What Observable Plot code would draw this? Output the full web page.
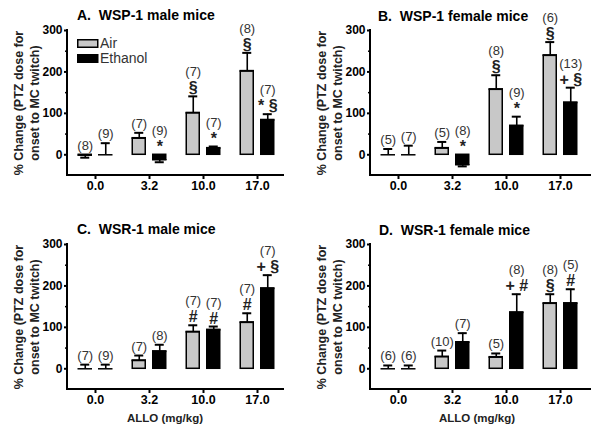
<!DOCTYPE html>
<html>
<head>
<meta charset="utf-8">
<script src="https://cdn.jsdelivr.net/npm/d3@7"></script>
<script src="https://cdn.jsdelivr.net/npm/@observablehq/plot@0.6"></script>
<style>
  html, body { margin: 0; padding: 0; background: #fff; }
  #wrap { position: relative; width: 600px; height: 433px; background: #fff; overflow: hidden;
          font-family: "Liberation Sans", Arial, sans-serif; }
  #wrap svg.panel { position: absolute; }
  #overlay { position: absolute; left: 0; top: 0; }
</style>
</head>
<body>
<div id="wrap"></div>
<script>
// ---------- data ----------
const doses = ["0.0", "3.2", "10.0", "17.0"];
const groups = ["Air", "Ethanol"];
const yLabel = "% Change (PTZ dose for\nonset to MC twitch)";
const xLabel = "ALLO (mg/kg)";

// A. WSP-1 male mice
const titleA = "A.  WSP-1 male mice";
const airA = [-1, 40, 101, 202];
const airSemA = [6, 13, 40, 44];
const ethA = [0, -12, 16, 84];
const ethSemA = [28, 6, 4, 14];
const airNA = ["8", "7", "7", "8"];
const ethNA = ["9", "9", "7", "7"];
const airSymA = ["", "", "§", "§"];
const ethSymA = ["", "*", "*", "* §"];

// B. WSP-1 female mice
const titleB = "B.  WSP-1 female mice";
const airB = [0, 16, 158, 240];
const airSemB = [14, 15, 34, 32];
const ethB = [0, -24, 70, 126];
const ethSemB = [22, 4, 22, 36];
const airNB = ["5", "5", "8", "6"];
const ethNB = ["7", "8", "9", "13"];
const airSymB = ["", "", "§", "§"];
const ethSymB = ["", "*", "*", "+ §"];

// C. WSR-1 male mice
const titleC = "C.  WSR-1 male mice";
const airC = [0, 20, 89, 112];
const airSemC = [10, 12, 16, 22];
const ethC = [0, 42, 94, 194];
const ethSemC = [10, 16, 8, 32];
const airNC = ["7", "7", "7", "7"];
const ethNC = ["9", "8", "7", "7"];
const airSymC = ["", "", "#", "#"];
const ethSymC = ["", "", "#", "+ §"];

// D. WSR-1 female mice
const titleD = "D.  WSR-1 female mice";
const airD = [0, 29, 28, 158];
const airSemD = [8, 15, 9, 22];
const ethD = [0, 64, 136, 158];
const ethSemD = [8, 22, 44, 34];
const airND = ["6", "10", "5", "8"];
const ethND = ["6", "7", "8", "5"];
const airSymD = ["", "", "", "§"];
const ethSymD = ["", "", "+ #", "#"];

const yTicks = [0, 100, 200, 300];
const yMinorTicks = [50, 150, 250];
const yDomain = [-50, 300];

// ---------- helpers ----------
const FONT = '"Liberation Sans", Arial, sans-serif';

function rowsFor(vals, sems, ns, syms, grp) {
  return doses.map((d, i) => {
    const mean = vals[i], sem = sems[i];
    const end = mean + (mean < 0 ? -sem : sem);
    return {dose: d, grp, mean, sem, end, n: ns[i], sym: syms[i], base: Math.max(0, mean, end)};
  });
}

function groupMarks(rows, dx) {
  const barInset = 20.5, capInset = 22.5;
  return [
    Plot.barY(rows, {x: "dose", y1: 0, y2: "mean", fill: "grp", stroke: "black", strokeWidth: 1.5,
      insetLeft: barInset, insetRight: barInset, dx}),
    Plot.tickY(rows, {x: "dose", y: "mean", stroke: "black", strokeWidth: 1.5,
      insetLeft: barInset - 0.75, insetRight: barInset - 0.75, dx}),
    Plot.ruleX(rows, {x: "dose", y1: "mean", y2: "end", stroke: "black", strokeWidth: 1.6, dx}),
    Plot.tickY(rows, {x: "dose", y: "end", stroke: "black", strokeWidth: 2,
      insetLeft: capInset, insetRight: capInset, dx}),
    Plot.text(rows.filter(d => !d.sym), {x: "dose", y: "base", text: d => `(${d.n})`, dx, dy: -5,
      lineAnchor: "bottom", fontSize: 13, fill: "#333"}),
    Plot.text(rows.filter(d => d.sym), {x: "dose", y: "base", text: d => `(${d.n})`, dx, dy: -20,
      lineAnchor: "bottom", fontSize: 13, fill: "#333"}),
    Plot.text(rows.filter(d => d.sym), {x: "dose", y: "base", text: "sym", dx, dy: -3,
      lineAnchor: "bottom", fontSize: 16, fontWeight: "bold", fill: "#222"})
  ];
}

function axisLines(extendRight) {
  return (index, scales, values, dims) => {
    const g = d3.create("svg:g").attr("stroke", "black").attr("stroke-width", 2).attr("fill", "none");
    const x0 = dims.marginLeft - 1;
    const yb = scales.y(yDomain[0]), yt = scales.y(yDomain[1]);
    g.append("line").attr("x1", x0).attr("x2", x0).attr("y1", yt - 1).attr("y2", yb + 1);
    g.append("line").attr("x1", x0 - 1).attr("x2", dims.width - dims.marginRight + extendRight)
      .attr("y1", yb).attr("y2", yb);
    return g.node();
  };
}

function panel(opts) {
  const airRows = rowsFor(opts.air, opts.airSem, opts.airN, opts.airSym, "Air");
  const ethRows = rowsFor(opts.eth, opts.ethSem, opts.ethN, opts.ethSym, "Ethanol");
  const svg = Plot.plot({
    width: 300,
    height: opts.height,
    marginLeft: opts.marginLeft,
    marginRight: 300 - opts.marginLeft - 216,
    marginTop: opts.marginTop,
    marginBottom: opts.height - opts.marginTop - 145,
    style: {fontFamily: FONT, fontSize: "12px", background: "transparent", overflow: "visible", color: "black"},
    x: {domain: doses, padding: 0},
    y: {domain: yDomain},
    color: {domain: groups, range: ["#c8c8c8", "#000000"]},
    marks: [
      Plot.axisY({ticks: yTicks, tickSize: 4, tickPadding: 2, fontWeight: "bold", fontSize: 12,
        label: null, strokeWidth: 2}),
      Plot.axisY({ticks: yMinorTicks, tickSize: 3, text: null, label: null, strokeWidth: 1.5}),
      Plot.axisX({tickSize: 4, tickPadding: 2, fontWeight: "bold", fontSize: 12.5, label: null, strokeWidth: 2}),
      axisLines(opts.extendRight),
      ...groupMarks(airRows, -10.25),
      ...groupMarks(ethRows, 10.25),
      Plot.text([yLabel], {frameAnchor: "left", text: d => d, rotate: -90, dx: -43,
        lineAnchor: "middle", textAnchor: "middle", lineHeight: 1.33,
        fontSize: 12.5, fontWeight: "bold", fill: "#222"})
    ]
  });
  svg.classList.add("panel");
  svg.style.left = opts.left + "px";
  svg.style.top = opts.top + "px";
  return svg;
}

const wrap = document.getElementById("wrap");
wrap.appendChild(panel({left: 0, top: 0, height: 215, marginTop: 30, marginLeft: 68, extendRight: 0,
  air: airA, airSem: airSemA, airN: airNA, airSym: airSymA,
  eth: ethA, ethSem: ethSemA, ethN: ethNA, ethSym: ethSymA}));
wrap.appendChild(panel({left: 300, top: 0, height: 215, marginTop: 30, marginLeft: 71, extendRight: 4,
  air: airB, airSem: airSemB, airN: airNB, airSym: airSymB,
  eth: ethB, ethSem: ethSemB, ethN: ethNB, ethSym: ethSymB}));
wrap.appendChild(panel({left: 0, top: 215, height: 218, marginTop: 29, marginLeft: 68, extendRight: 0,
  air: airC, airSem: airSemC, airN: airNC, airSym: airSymC,
  eth: ethC, ethSem: ethSemC, ethN: ethNC, ethSym: ethSymC}));
wrap.appendChild(panel({left: 300, top: 215, height: 218, marginTop: 29, marginLeft: 71, extendRight: 4,
  air: airD, airSem: airSemD, airN: airND, airSym: airSymD,
  eth: ethD, ethSem: ethSemD, ethN: ethND, ethSym: ethSymD}));

// ---------- overlay: titles, legend, x labels ----------
const ov = d3.select(wrap).append("svg").attr("id", "overlay").attr("width", 600).attr("height", 433)
  .style("font-family", FONT).style("pointer-events", "none");

const titles = [
  {t: titleA, x: 77, y: 20},
  {t: titleB, x: 378, y: 20.5},
  {t: titleC, x: 77, y: 234},
  {t: titleD, x: 379, y: 235}
];
ov.selectAll("text.title").data(titles).join("text").attr("class", "title")
  .attr("x", d => d.x).attr("y", d => d.y).attr("xml:space", "preserve").style("white-space", "pre")
  .attr("font-size", 14).attr("font-weight", "bold").attr("fill", "#000").text(d => d.t);

const xl = [{x: 165, y: 422}, {x: 477, y: 422}];
ov.selectAll("text.xl").data(xl).join("text").attr("class", "xl")
  .attr("x", d => d.x).attr("y", d => d.y).attr("text-anchor", "middle")
  .attr("font-size", 11.5).attr("font-weight", "bold").attr("fill", "#222").text(xLabel);

// legend (panel A)
const legendFill = ["#c8c8c8", "#000000"];
const leg = ov.append("g");
groups.forEach((g, i) => {
  const y0 = i === 0 ? 39.75 : 54.75;
  leg.append("rect").attr("x", 77.75).attr("y", y0).attr("width", 20).attr("height", 7.5)
    .attr("fill", legendFill[i]).attr("stroke", "black").attr("stroke-width", 1.5);
  leg.append("text").attr("x", 100).attr("y", i === 0 ? 47.5 : 63).attr("font-size", 14)
    .attr("fill", "#333").text(g);
});
</script>
</body>
</html>
